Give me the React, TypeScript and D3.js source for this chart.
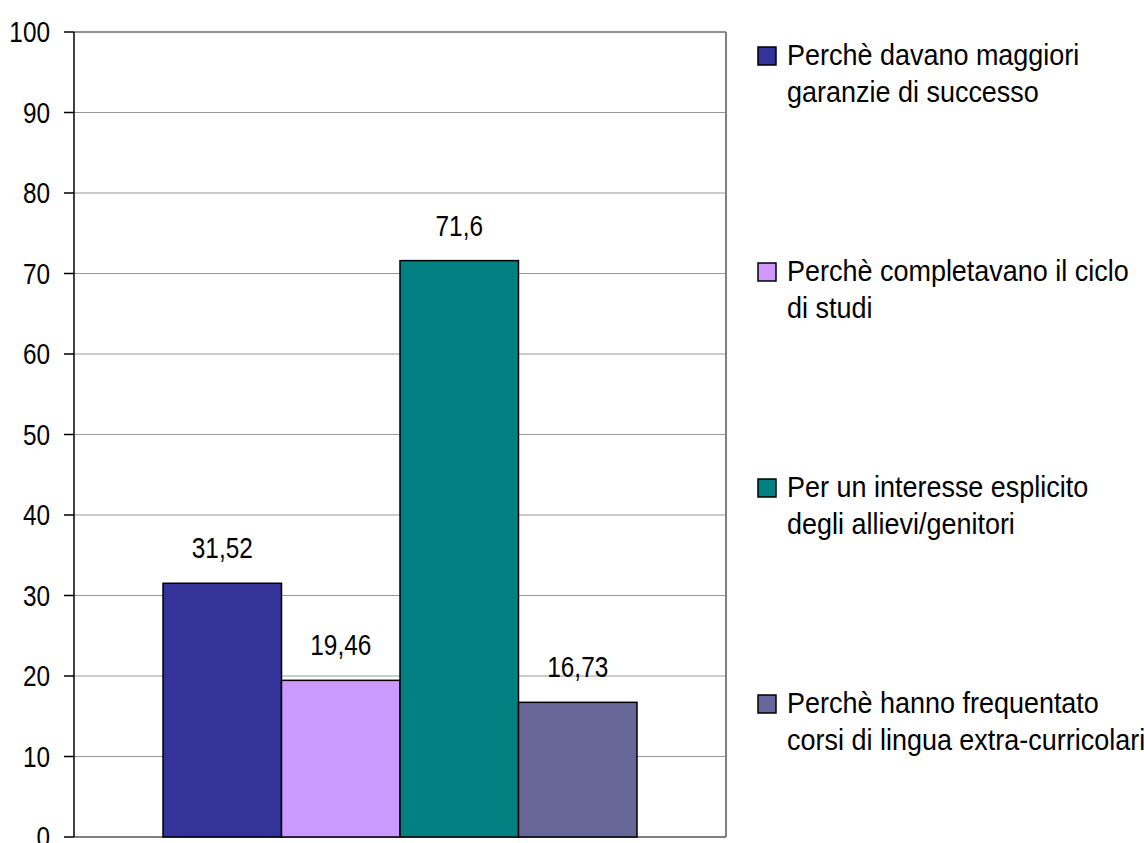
import React from "react";
import * as d3 from "d3";

const seriesNames = [
  ["Perchè davano maggiori", "garanzie di successo"],
  ["Perchè completavano il ciclo", "di studi"],
  ["Per un interesse esplicito", "degli allievi/genitori"],
  ["Perchè hanno frequentato", "corsi di lingua extra-curricolari"],
];
const seriesKeys = ["s1", "s2", "s3", "s4"];
const values = [31.52, 19.46, 71.6, 16.73];
const valueLabels = ["31,52", "19,46", "71,6", "16,73"];
const colors = ["#333399", "#CC99FF", "#008080", "#666699"];
const yTicks = [0, 10, 20, 30, 40, 50, 60, 70, 80, 90, 100];
const categories = ["g"];

const W = 1144;
const H = 843;
const plot = { left: 74, right: 726, top: 32, bottom: 837 };
const FONT = "'Liberation Sans', Arial, sans-serif";
const NUM_SX = 0.84;
const LEG_SX = 0.93;

export default function App() {
  const y = d3.scaleLinear().domain([0, 100]).range([plot.bottom, plot.top]);
  const x0 = d3
    .scaleBand()
    .domain(categories)
    .range([plot.left, plot.right])
    .paddingInner(0)
    .paddingOuter(0.1878);
  const x1 = d3
    .scaleBand()
    .domain(seriesKeys)
    .range([0, x0.bandwidth()])
    .padding(0);

  const legendX = 758;
  const legendBase = [65, 281, 497, 713];

  return (
    <svg
      width={W}
      height={H}
      style={{ position: "absolute", left: 0, top: 0, background: "#fff" }}
      fontFamily={FONT}
    >
      {/* gridlines */}
      {yTicks.map((t) => (
        <line
          key={"g" + t}
          x1={plot.left}
          x2={plot.right}
          y1={y(t)}
          y2={y(t)}
          stroke="#999999"
          strokeWidth={1.2}
        />
      ))}
      {/* plot border right/bottom/top */}
      <line x1={plot.right} x2={plot.right} y1={plot.top} y2={plot.bottom} stroke="#808080" strokeWidth={2} />
      <line x1={plot.left} x2={plot.right} y1={plot.bottom} y2={plot.bottom} stroke="#808080" strokeWidth={2} />
      <line x1={plot.left} x2={plot.right} y1={plot.top} y2={plot.top} stroke="#808080" strokeWidth={1.5} />

      {/* bars */}
      {categories.map((c) => (
        <g key={c} transform={`translate(${x0(c)},0)`}>
          {values.map((v, i) => (
            <rect
              key={seriesKeys[i]}
              x={x1(seriesKeys[i])}
              y={y(v)}
              width={x1.bandwidth()}
              height={y(0) - y(v)}
              fill={colors[i]}
              stroke="#000"
              strokeWidth={1.5}
            />
          ))}
          {values.map((v, i) => (
            <text
              key={"l" + i}
              transform={`translate(${(x1(seriesKeys[i]) as number) + x1.bandwidth() / 2},${y(v) - 25}) scale(${NUM_SX},1)`}
              textAnchor="middle"
              fontSize={29}
              fill="#000"
            >
              {valueLabels[i]}
            </text>
          ))}
        </g>
      ))}

      {/* y axis */}
      <line x1={plot.left} x2={plot.left} y1={plot.top} y2={plot.bottom} stroke="#000" strokeWidth={1.5} />
      {yTicks.map((t) => (
        <g key={"t" + t}>
          <line x1={plot.left - 10} x2={plot.left} y1={y(t)} y2={y(t)} stroke="#000" strokeWidth={1.5} />
          <text
            transform={`translate(50,${y(t)}) scale(${NUM_SX},1)`}
            dy="0.36em"
            textAnchor="end"
            fontSize={29}
            fill="#000"
          >
            {t}
          </text>
        </g>
      ))}

      {/* legend */}
      {seriesNames.map((lines, i) => (
        <g key={"leg" + i}>
          <rect
            x={legendX}
            y={legendBase[i] - 18}
            width={18}
            height={18}
            fill={colors[i]}
            stroke="#000"
            strokeWidth={1.5}
          />
          {lines.map((ln, j) => (
            <text
              key={j}
              transform={`translate(${legendX + 29},${legendBase[i] + j * 37}) scale(${LEG_SX},1)`}
              fontSize={29}
              fill="#000"
            >
              {ln}
            </text>
          ))}
        </g>
      ))}
    </svg>
  );
}
